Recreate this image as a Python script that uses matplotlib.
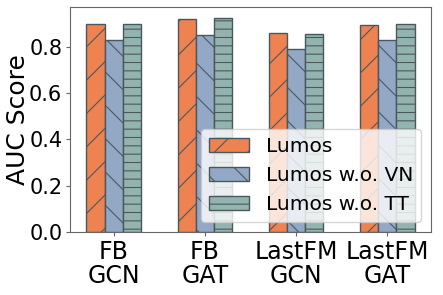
import matplotlib
matplotlib.use("Agg")
import matplotlib.pyplot as plt
import numpy as np

categories = ["FB\nGCN", "FB\nGAT", "LastFM\nGCN", "LastFM\nGAT"]
series_names = ["Lumos", "Lumos w.o. VN", "Lumos w.o. TT"]
lumos = [0.899, 0.922, 0.861, 0.895]
lumos_vn = [0.830, 0.853, 0.791, 0.832]
lumos_tt = [0.899, 0.928, 0.858, 0.899]

colors = ["#EE8250", "#93A8C5", "#93B4AE"]
hatches = ["/", "\\", "--"]
edge = "#4A585E"
plt.rcParams["hatch.color"] = edge
plt.rcParams["hatch.linewidth"] = 0.8

fig, ax = plt.subplots(figsize=(4.43, 2.95), dpi=100)
x = np.arange(len(categories))
w = 0.2
for i, (vals, name) in enumerate(zip([lumos, lumos_vn, lumos_tt], series_names)):
    ax.bar(x + (i - 1) * w, vals, w, color=colors[i], edgecolor=edge,
           linewidth=1.0, hatch=hatches[i], label=name)

ax.set_xticks(x)
ax.set_xticklabels(categories, fontsize=17, linespacing=1.0)
ax.tick_params(axis="y", labelsize=15, length=3, pad=2.5)
ax.tick_params(axis="x", length=3, pad=2.5)
for s in ax.spines.values():
    s.set_color("#666666")
ax.tick_params(color="#666666")
ax.set_ylabel("AUC Score", fontsize=18)
ax.yaxis.set_label_coords(-0.11, 0.5)
ax.legend(loc="lower right", fontsize=14.5, framealpha=0.8)
fig.subplots_adjust(left=0.158, right=0.973, top=0.977, bottom=0.214)
fig.savefig("out.png")
